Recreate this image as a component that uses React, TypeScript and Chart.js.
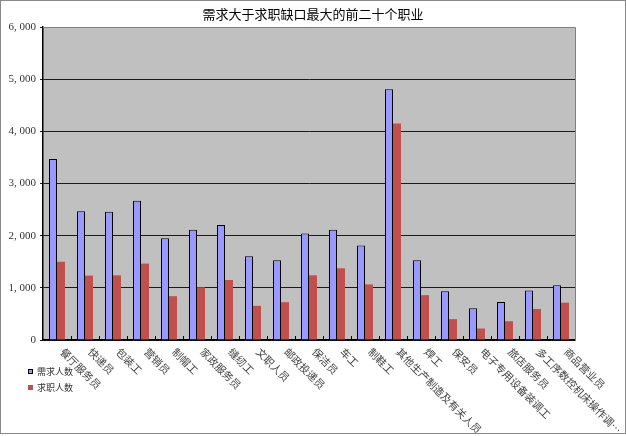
import React, { useEffect, useRef } from 'react';
import { Chart, registerables } from 'chart.js';

Chart.register(...registerables);

const TITLE = '需求大于求职缺口最大的前二十个职业';
const categories = [
  '餐厅服务员', '快递员', '包装工', '营销员', '制帽工', '家政服务员', '缝纫工',
  '文职人员', '邮政投递员', '保洁员', '车工', '制鞋工', '其他生产制造及有关人员',
  '焊工', '保安员', '电子专用设备装调工', '旅店服务员', '多工序数控机床操作调整工', '商品营业员',
];
const seriesNames = ['需求人数', '求职人数'];
const demand = [3470, 2470, 2460, 2670, 1950, 2115, 2205, 1605, 1530, 2040, 2115, 1810, 4805, 1530, 935, 610, 730, 950, 1050];
const seekers = [1500, 1235, 1240, 1465, 840, 1010, 1150, 655, 725, 1240, 1375, 1065, 4150, 860, 400, 220, 360, 595, 715];
const yMax = 6000;
const yStep = 1000;

const CJK = '"Noto Sans CJK SC", "Noto Sans", sans-serif';

function fmt(v: number): string {
  const s = String(v);
  if (v >= 1000) return s.slice(0, s.length - 3) + ', ' + s.slice(s.length - 3);
  return s;
}

const customPlugin = {
  id: 'custom',
  beforeDraw(chart: any) {
    const { ctx, chartArea: a } = chart;
    ctx.save();
    ctx.fillStyle = '#ffffff';
    ctx.fillRect(0, 0, chart.width, chart.height);
    ctx.fillStyle = '#c0c0c0';
    ctx.fillRect(a.left, a.top, a.right - a.left, a.bottom - a.top);
    ctx.restore();
  },
  afterDraw(chart: any) {
    const { ctx, chartArea: a } = chart;
    const xs = chart.scales.x;
    ctx.save();
    // plot border top/right
    ctx.strokeStyle = '#808080';
    ctx.lineWidth = 1;
    ctx.beginPath();
    ctx.moveTo(a.left, a.top + 0.5);
    ctx.lineTo(a.right + 0.5, a.top + 0.5);
    ctx.lineTo(a.right + 0.5, a.bottom);
    ctx.stroke();
    // x axis small inward ticks at category boundaries
    ctx.strokeStyle = '#000';
    ctx.beginPath();
    for (let i = 0; i < categories.length - 1; i++) {
      const b = Math.round((xs.getPixelForValue(i) + xs.getPixelForValue(i + 1)) / 2) + 0.5;
      ctx.moveTo(b, a.bottom - 4);
      ctx.lineTo(b, a.bottom);
    }
    ctx.stroke();
    // title
    ctx.fillStyle = '#000';
    ctx.font = '13px ' + CJK;
    ctx.textAlign = 'center';
    ctx.textBaseline = 'middle';
    ctx.fillText(TITLE, 313, 14);
    // x labels rotated 45deg clockwise
    ctx.fillStyle = '#404040';
    ctx.font = '10.5px ' + CJK;
    ctx.textAlign = 'left';
    ctx.textBaseline = 'middle';
    categories.forEach((c, i) => {
      const label = c.length > 11 ? c.slice(0, 10) + '…' : c;
      const px = xs.getPixelForValue(i);
      ctx.save();
      ctx.translate(px + 5, a.bottom + 10);
      ctx.rotate(Math.PI / 4);
      ctx.fillText(label, 0, 0);
      ctx.restore();
    });
    // legend
    const ds = chart.data.datasets;
    ctx.font = '9px ' + CJK;
    ds.forEach((d: any, i: number) => {
      const y = 372 + i * 16;
      ctx.fillStyle = d.backgroundColor;
      ctx.fillRect(28, y - 3, 5, 5);
      if (d.borderWidth) {
        ctx.strokeStyle = '#000';
        ctx.lineWidth = 1;
        ctx.strokeRect(28.5, y - 2.5, 4, 4);
      }
      ctx.fillStyle = '#333';
      ctx.fillText(d.label, 37, y);
    });
    ctx.restore();
  },
};

export default function App() {
  const ref = useRef<HTMLCanvasElement | null>(null);
  useEffect(() => {
    const canvas = ref.current;
    if (!canvas) return;
    const chart = new Chart(canvas, {
      type: 'bar',
      data: {
        labels: categories,
        datasets: [
          {
            label: seriesNames[0],
            data: demand,
            backgroundColor: '#9999ff',
            borderColor: '#000000',
            borderWidth: 1,
            borderSkipped: 'bottom',
          },
          {
            label: seriesNames[1],
            data: seekers,
            backgroundColor: '#c0504d',
            borderWidth: 0,
          },
        ],
      },
      options: {
        animation: false,
        responsive: false,
        devicePixelRatio: 1,
        categoryPercentage: 16 / 28,
        barPercentage: 1,
        layout: { padding: { top: 27, right: 51, left: 0, bottom: 0 } },
        plugins: {
          legend: { display: false },
          title: { display: false },
          tooltip: { enabled: false },
        },
        scales: {
          x: {
            offset: true,
            grid: { display: false },
            border: { display: true, color: '#000', width: 1.5 },
            ticks: { display: false },
            afterFit: (s: any) => { s.height = 96; },
          },
          y: {
            min: 0,
            max: yMax,
            ticks: {
              stepSize: yStep,
              color: '#333',
              padding: 4,
              font: { family: '"Liberation Serif", serif', size: 11 },
              callback: (v: any) => fmt(Number(v)),
            },
            grid: { color: '#1a1a1a', lineWidth: 1, tickLength: 3, drawTicks: true },
            border: { display: true, color: '#000', width: 1.5 },
            afterFit: (s: any) => { s.width = 43; },
          },
        },
      },
      plugins: [customPlugin],
    });
    return () => chart.destroy();
  }, []);
  return (
    <div style={{ position: 'fixed', left: 0, top: 0, width: 626, height: 436, background: '#fff' }}>
      <canvas ref={ref} width={626} height={436} style={{ display: 'block', width: 626, height: 436 }} />
      <div style={{ position: 'absolute', left: 0, top: 0, width: 626, height: 434, border: '1px solid #888', boxSizing: 'border-box', pointerEvents: 'none' }} />
    </div>
  );
}
